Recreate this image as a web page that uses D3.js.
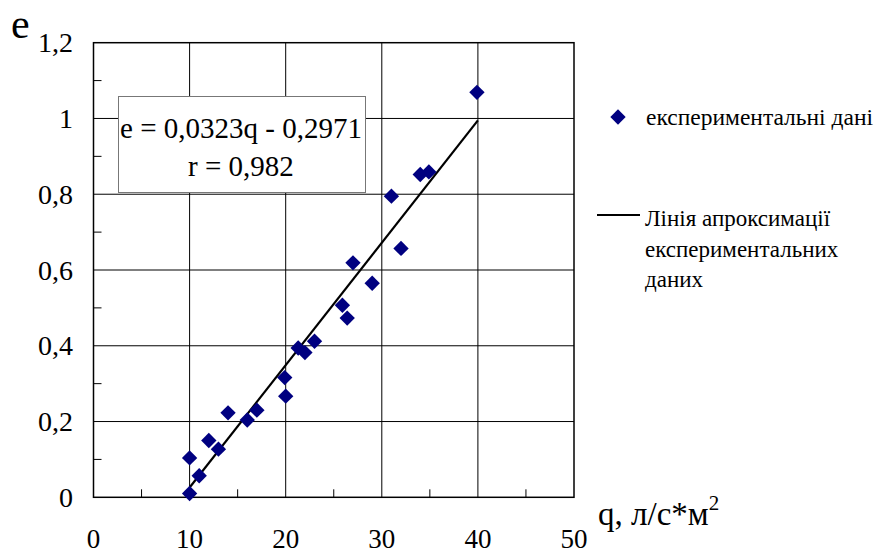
<!DOCTYPE html>
<html>
<head>
<meta charset="utf-8">
<script src="https://cdn.jsdelivr.net/npm/d3@7"></script>
</head>
<body style="margin:0">
<svg id="chart" width="878" height="556" style="font-family:'Liberation Serif'"></svg>
<script>
// experimental points (q, e)
var qVals = [10, 10, 11, 12, 13, 14, 16, 17, 19.9, 20, 21.3, 22, 23, 25.9, 26.4, 27, 29, 31, 32, 34, 34.9, 39.9];
var eVals = [0.01, 0.104, 0.057, 0.15, 0.127, 0.223, 0.204, 0.23, 0.316, 0.267, 0.394, 0.382, 0.412, 0.507, 0.473, 0.619, 0.565, 0.795, 0.657, 0.852, 0.859, 1.069];
var xTicks = [0, 10, 20, 30, 40, 50];
var yTicks = [0, 0.2, 0.4, 0.6, 0.8, 1, 1.2];
var fitSlope = 0.0323, fitIntercept = -0.2971;
var fitRange = [10, 40];

var svg = d3.select("#chart");
var x = d3.scaleLinear().domain([0, 50]).range([93.5, 574]);
var y = d3.scaleLinear().domain([0, 1.2]).range([497.3, 42.7]);
var fmt = function(d) { return String(d).replace(".", ","); };

var g = svg.append("g");

// grid
g.selectAll(".vg").data(xTicks.slice(1, -1)).enter().append("line")
    .attr("x1", d => x(d)).attr("x2", d => x(d))
    .attr("y1", y(0)).attr("y2", y(1.2))
    .attr("stroke", "#000").attr("stroke-width", 1);
g.selectAll(".hg").data(yTicks.slice(1, -1)).enter().append("line")
    .attr("x1", x(0)).attr("x2", x(50))
    .attr("y1", d => y(d)).attr("y2", d => y(d))
    .attr("stroke", "#000").attr("stroke-width", 1);

// minor ticks
g.selectAll(".mx").data(d3.range(5, 50, 10)).enter().append("line")
    .attr("x1", d => x(d)).attr("x2", d => x(d))
    .attr("y1", y(0)).attr("y2", y(0) - 8)
    .attr("stroke", "#000");
g.selectAll(".my").data(d3.range(0.1, 1.2, 0.2)).enter().append("line")
    .attr("x1", x(0)).attr("x2", x(0) + 8)
    .attr("y1", d => y(d)).attr("y2", d => y(d))
    .attr("stroke", "#000");

// frame
g.append("rect")
    .attr("x", x(0)).attr("y", y(1.2))
    .attr("width", x(50) - x(0)).attr("height", y(0) - y(1.2))
    .attr("fill", "none").attr("stroke", "#000").attr("stroke-width", 1.5);

// tick labels
g.selectAll(".xl").data(xTicks).enter().append("text")
    .attr("x", d => x(d)).attr("y", 548)
    .attr("text-anchor", "middle").attr("font-size", 27)
    .text(d => d);
g.selectAll(".yl").data(yTicks).enter().append("text")
    .attr("x", 73).attr("y", d => y(d) + 9.5)
    .attr("text-anchor", "end").attr("font-size", 28)
    .text(fmt);

// axis titles
svg.append("text").attr("x", 11).attr("y", 38).attr("font-size", 42).text("e");
var qt = svg.append("text").attr("x", 598).attr("y", 525).attr("font-size", 33);
qt.append("tspan").text("q, л/с*м");
qt.append("tspan").attr("dy", -15).attr("font-size", 21).text("2");

// fit line
g.append("line")
    .attr("x1", x(fitRange[0])).attr("y1", y(fitSlope * fitRange[0] + fitIntercept))
    .attr("x2", x(fitRange[1])).attr("y2", y(fitSlope * fitRange[1] + fitIntercept))
    .attr("stroke", "#000").attr("stroke-width", 2.2);

// points
var diamond = d3.symbol().type(d3.symbolDiamond2).size(150);
g.selectAll(".pt").data(qVals.map((q, i) => [q, eVals[i]])).enter().append("path")
    .attr("d", diamond)
    .attr("transform", d => "translate(" + x(d[0]) + "," + y(d[1]) + ")")
    .attr("fill", "#000080");

// equation box
svg.append("rect").attr("x", 118.5).attr("y", 96.5).attr("width", 247).attr("height", 96)
    .attr("fill", "#fff").attr("stroke", "#777").attr("stroke-width", 1);
svg.append("text").attr("x", 241).attr("y", 138).attr("text-anchor", "middle")
    .attr("font-size", 29).text("e = 0,0323q - 0,2971");
svg.append("text").attr("x", 241).attr("y", 176).attr("text-anchor", "middle")
    .attr("font-size", 29).text("r = 0,982");

// legend
svg.append("path").attr("d", diamond)
    .attr("transform", "translate(618,117)").attr("fill", "#000080");
svg.append("text").attr("x", 646).attr("y", 125).attr("font-size", 23.5)
    .text("експериментальні дані");
svg.append("line").attr("x1", 597).attr("x2", 640).attr("y1", 215).attr("y2", 215)
    .attr("stroke", "#000").attr("stroke-width", 2);
var legLines = ["Лінія апроксимації", "експериментальних", "даних"];
svg.selectAll(".lg").data(legLines).enter().append("text")
    .attr("x", 645).attr("y", (d, i) => 226 + i * 30.5)
    .attr("font-size", 23).text(d => d);
</script>
</body>
</html>
